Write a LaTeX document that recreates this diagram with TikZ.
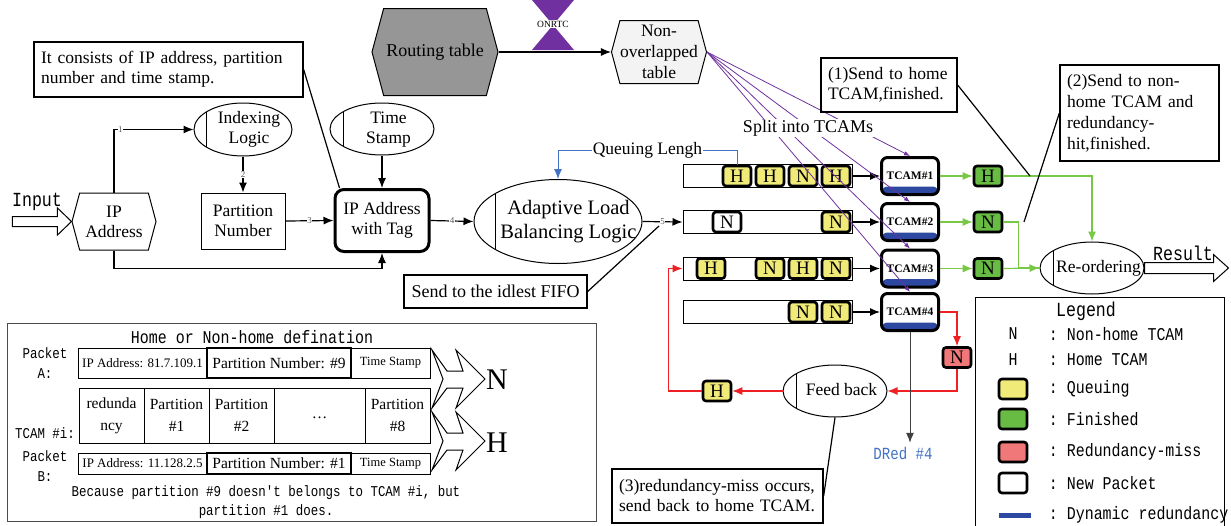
\documentclass[tikz,border=0pt]{standalone}
\usepackage{fontspec}
\setmainfont{Liberation Serif}
\setmonofont{Liberation Mono}[FakeStretch=0.83]
\usetikzlibrary{arrows.meta,calc,positioning,shapes.geometric,shapes.symbols}

\definecolor{queuey}{RGB}{240,235,120}
\definecolor{doneg}{RGB}{104,188,68}
\definecolor{missr}{RGB}{240,120,120}
\definecolor{dynblue}{RGB}{44,72,160}
\definecolor{splitp}{RGB}{112,48,160}
\definecolor{lineg}{RGB}{120,200,70}
\definecolor{liner}{RGB}{238,32,36}
\definecolor{qblue}{RGB}{68,114,196}
\definecolor{routegray}{RGB}{150,150,150}
\definecolor{tablegray}{RGB}{242,243,242}

\newcommand{\pxfont}[2]{\fontsize{#1pt}{#2pt}\selectfont}
% text of an ellipse, kept right of its inner bar; takes no room so the ellipse keeps its size
\newcommand{\padtext}[2]{\smash{\makebox[0pt]{\raisebox{-0.25em}{\begin{tabular}{@{\hspace{#1pt}}c@{}}#2\end{tabular}}}}}

\begin{document}
\begin{tikzpicture}[x=1pt,y=-1pt,line width=1.2pt,>={Latex[length=10pt,width=8pt]},
  font=\pxfont{17.5}{20},
  proc/.style={ellipse,draw,line width=1pt,inner sep=0pt,
    path picture={\draw[line width=1pt]
      ($(path picture bounding box.north west)!0.125!(path picture bounding box.north east)$) --
      ($(path picture bounding box.south west)!0.125!(path picture bounding box.south east)$);}},
  hexbox/.style={signal,signal to=west and east,signal pointer angle=150,draw,line width=1pt,
    inner sep=0pt,align=center},
  note/.style={draw,line width=1.3pt,align=left,inner xsep=7pt},
  pkt/.style={draw,line width=2.6pt,rounded corners=3pt,minimum width=28pt,minimum height=20pt,
    inner sep=0pt,font=\pxfont{19}{19}},
  waitpkt/.style={pkt,fill=queuey},
  donepkt/.style={pkt,fill=doneg},
  misspkt/.style={pkt,fill=missr},
  newpkt/.style={pkt,fill=white},
  fifo/.style={draw,line width=1pt,minimum width=169pt,minimum height=23pt,inner sep=0pt},
  tcam/.style={draw,line width=3pt,rounded corners=6pt,minimum width=57pt,minimum height=37pt,
    inner sep=0pt,fill=white,font=\bfseries\pxfont{11.5}{12},
    path picture={\fill[dynblue] (path picture bounding box.south west) rectangle
      ([yshift=8pt]path picture bounding box.south east);}},
  steplabel/.style={fill=white,inner sep=0.6pt,text=black!65,font=\pxfont{9}{9}},
  cell/.style={draw,line width=1pt,minimum height=#1,inner sep=0pt,outer sep=0pt,align=center},
  legtext/.style={anchor=west,font=\ttfamily\pxfont{18}{18}}]
\useasboundingbox (0,0) rectangle (1231,525);

% left part: address, index and tag
\node[hexbox,minimum width=84pt,minimum height=57pt] (ipaddr) at (114,221.5) {IP\\Address};
\node[proc,minimum width=98pt,minimum height=53pt] (idx) at (243,129.5) {\padtext{12}{Indexing\\Logic}};
\node[draw,line width=1pt,minimum width=84pt,minimum height=56pt,align=center] (partnum) at (243,221) {Partition\\Number};
\node[proc,minimum width=104pt,minimum height=52pt] (ts) at (382,129) {\padtext{13}{Time\\Stamp}};
\node[draw,line width=3pt,rounded corners=9pt,minimum width=94pt,minimum height=62pt,align=center] (iptag) at (382,220.5) {IP Address\\with Tag};
\node[proc,minimum width=168pt,minimum height=84pt,font=\pxfont{20.5}{24}] (alb) at (558,221.5) {\padtext{21}{Adaptive Load\\Balancing Logic}};

\draw[line width=1pt,fill=white] (ipaddr.west) -- ++(-14,-13.5) -- ++(0,8.5) -- ++(-45,0) -- ++(0,10)
  -- ++(45,0) -- ++(0,8.5) -- cycle;
\node[font=\ttfamily\pxfont{20}{20}] (inlabel) at (37,202) {Input};

\draw[->] (ipaddr.north) |- node[steplabel,pos=0.54] (lab1) {1} (idx.west);
\draw[->] (idx.south) -- node[steplabel] (lab2) {2} (partnum.north);
\draw[->] (partnum.east) -- node[steplabel] (lab3) {3} (iptag.west);
\draw[->] (ts.south) -- (iptag.north);
\draw[->] (ipaddr.south) -- ++(0,18) -| (iptag.south);
\draw[->] (iptag.east) -- node[steplabel] (lab4) {4} (alb.west);

% routing table split
\node[hexbox,fill=routegray,minimum width=126pt,minimum height=87pt,font=\pxfont{18}{20}] (routing) at (435,52) {Routing table};
\node[hexbox,fill=tablegray,minimum width=95pt,minimum height=63pt,font=\pxfont{17.5}{21}] (nonover) at (659,52) {Non-\\overlapped\\table};
\draw[->] (routing.east) -- (nonover.west);
\fill[splitp] (532,0) -- (574,0) -- (553,25) -- cycle;
\fill[splitp] (532,50) -- (574,50) -- (553,25) -- cycle;
\node[fill=white,inner sep=1pt,font=\pxfont{9.5}{9.5}] (onrtc) at (553,24) {ONRTC};

% FIFOs and TCAMs
\foreach \k/\ty in {1/176,2/222,3/268.5,4/312}{
  \node[fifo] (fifo\k) at (767.5,\ty) {};
  \node[tcam] (tcam\k) at (910,\ty) {TCAM\#\k};
}
\foreach \pname/\px/\py/\plet/\pstyle in {
    p11/737/176/H/waitpkt, p12/770/176/H/waitpkt, p13/803/176/N/waitpkt, p14/836/176/H/waitpkt,
    p21/727/222/N/newpkt, p22/836/222/N/waitpkt,
    p31/711/268.5/H/waitpkt, p32/770/268.5/N/waitpkt, p33/803/268.5/H/waitpkt, p34/836/268.5/N/waitpkt,
    p41/803/312/N/waitpkt, p42/836/312/N/waitpkt}
  \node[\pstyle] (\pname) at (\px,\py) {\plet};
\foreach \k in {1,...,4}
  \draw[->] (fifo\k.east) -- (tcam\k.west);
\draw[->] (alb.east) -- node[steplabel] (lab5) {5} (fifo2.west);
\draw[qblue,line width=1pt,->] (p11.north) -- ++(0,-14) -| node[pos=0.25,fill=white,text=black,inner sep=1pt] (qlen) {Queuing Lengh} (alb.north);

\node[note,align=center,minimum width=183pt,minimum height=33pt,font=\pxfont{18}{20}] (idlebox) at (495.5,291.5) {Send to the idlest FIFO};
\draw (idlebox.east) -- (lab5.south west);

\foreach \k in {1,...,4}
  \draw[splitp,line width=0.8pt,-{Latex[length=6pt,width=4.5pt]}] (nonover.east) -- (tcam\k.north);
\node[fill=white,inner sep=1pt,font=\pxfont{18}{20}] (split) at (808,128) {Split into TCAMs};

% finished packets
\node[donepkt] (done1) at (988,176) {H};
\node[donepkt] (done2) at (988,222) {N};
\node[donepkt] (done3) at (988,268.5) {N};
\node[proc,minimum width=104pt,minimum height=52pt] (reorder) at (1092,268) {\padtext{13}{Re-ordering}};
\foreach \k in {1,2,3}
  \draw[lineg,->] (tcam\k.east) -- (done\k.west);
\draw[lineg,->] (done1.east) -| (reorder.north);
\draw[lineg] (done2.east) -- ++(15,0) |- (reorder.west);
\draw[lineg,->] (done3.east) -- (reorder.west);
\draw[line width=1pt,fill=white] (reorder.east) ++(0,-5.5) -- ++(69,0) -- ++(0,-8) -- ++(15,13.5)
  -- ++(-15,13.5) -- ++(0,-8) -- ++(-69,0) -- cycle;
\node[font=\ttfamily\pxfont{20}{20}] (reslabel) at (1183,253) {Result};

% redundancy miss and feedback
\node[misspkt] (miss) at (957,357.5) {N};
\node[proc,minimum width=104pt,minimum height=52pt] (feedback) at (835,391) {\padtext{13}{Feed back}};
\node[waitpkt] (back) at (717,391) {H};
\node[text=qblue,font=\ttfamily\pxfont{17}{17}] (dred) at (903,453) {DRed \#4};
\draw[liner,->] (tcam4.east) -| (miss.north);
\draw[liner,->] (miss.south) |- (feedback.east);
\draw[liner,->] (feedback.west) -- (back.east);
\draw[liner,->] (back.west) -- ++(-33,0) |- (fifo3.west);
\draw[black!75,line width=1pt,->] (tcam4.south) -- (tcam4.south |- dred.north);

% notes
\node[note,text width=255pt,minimum height=55pt] (consist) at (168.5,69.5) {It consists of IP address, partition\\number and time stamp.};
\draw (consist.east) -- ([xshift=6pt]iptag.north west);
\node[note,text width=122pt,minimum height=54pt] (sendhome) at (889,85) {(1)Send to home\\TCAM,finished.};
\coordinate (homehit) at (1030,176);
\draw (sendhome.east) -- (homehit);
\node[note,text width=145pt,minimum height=96pt,font=\pxfont{17.5}{21}] (nonhome) at (1139.5,113) {(2)Send to non-\\home TCAM and\\redundancy-\\hit,finished.};
\coordinate (redhit) at (1024,222);
\draw (nonhome.west) -- (redhit);
\node[note,text width=197pt,minimum height=54pt] (missbox) at (717.5,496) {(3)redundancy-miss occurs,\\send back to home TCAM.};
\draw (missbox.east) -- (feedback.south);

% legend
\draw[line width=1pt] (975,526) |- (1224,297) -- (1224,526);
\node[font=\ttfamily\pxfont{20}{20}] (legtitle) at (1086,311) {Legend};
\node[font=\ttfamily\pxfont{18}{18}] (legn) at (1013,334) {N};
\node[font=\ttfamily\pxfont{18}{18}] (legh) at (1013,360) {H};
\node[waitpkt] (legwait) at (1013,389) {};
\node[donepkt] (legdone) at (1013,419) {};
\node[misspkt] (legmiss) at (1013,452) {};
\node[newpkt] (legnew) at (1013,483) {};
\node[fill=dynblue,minimum width=32pt,minimum height=5pt,inner sep=0pt] (legdyn) at (1015,515) {};
\foreach \ly/\desc in {334/Non-home TCAM,360/Home TCAM,389/Queuing,419/Finished,
    452/Redundancy-miss,483/New Packet,515/Dynamic redundancy}
  \node[legtext] (leg\ly) at (1045,\ly) {: \desc};

% home / non-home definition
\draw[black!70,line width=1pt] (7,323) rectangle (596,521);
\node[font=\ttfamily\pxfont{18}{18}] (deftitle) at (252,337) {Home or Non-home defination};
\node[font=\ttfamily\pxfont{15}{20},align=center] (pkta) at (45,363) {Packet\\A:};
\node[cell=30pt,minimum width=129pt,font=\pxfont{13}{13}] (a1) at (142.5,363) {IP Address: 81.7.109.1};
\node[cell=30pt,minimum width=144pt,line width=1.8pt,font=\pxfont{15.5}{15.5},right=0pt of a1] (a2) {Partition Number: \#9};
\node[cell=30pt,minimum width=79pt,font=\pxfont{12.5}{12.5},right=0pt of a2] (a3) {Time Stamp};
\node[font=\ttfamily\pxfont{15}{15}] (tcamlab) at (45,433) {TCAM \#i:};
\node[cell=55pt,minimum width=65pt,font=\pxfont{15.5}{22}] (t1) at (111.5,415.5) {redunda\\ncy};
\node[cell=55pt,minimum width=65pt,font=\pxfont{15.5}{22},right=0pt of t1] (t2) {Partition\\\#1};
\node[cell=55pt,minimum width=65pt,font=\pxfont{15.5}{22},right=0pt of t2] (t3) {Partition\\\#2};
\node[cell=55pt,minimum width=91pt,font=\pxfont{15.5}{22},right=0pt of t3] (t4) {\raisebox{-7pt}{\ldots}};
\node[cell=55pt,minimum width=65pt,font=\pxfont{15.5}{22},right=0pt of t4] (t5) {Partition\\\#8};
\node[font=\ttfamily\pxfont{15}{20},align=center] (pktb) at (45,466) {Packet\\B:};
\node[cell=21pt,minimum width=129pt,font=\pxfont{13}{13}] (b1) at (142.5,463.5) {IP Address: 11.128.2.5};
\node[cell=21pt,minimum width=144pt,line width=1.8pt,font=\pxfont{15.5}{15.5},right=0pt of b1] (b2) {Partition Number: \#1};
\node[cell=21pt,minimum width=79pt,font=\pxfont{12.5}{12.5},right=0pt of b2] (b3) {Time Stamp};
\foreach \dy in {0,62}
  \draw[line width=1pt,shift={(0,\dy)}] (432,350) -- (447,371) -- (463,371) -- (456,350) -- (485,379)
    -- (456,408) -- (463,388) -- (447,388) -- (432,408) -- (443,379) -- cycle;
\node[font=\pxfont{30}{30}] (lettn) at (497,380) {N};
\node[font=\pxfont{30}{30}] (letth) at (497,443) {H};
\node[font=\ttfamily\pxfont{15}{19},align=center] (because) at (266,502) {Because partition \#9 doesn't belongs to TCAM \#i, but\\partition \#1 does.};
\end{tikzpicture}
\end{document}
